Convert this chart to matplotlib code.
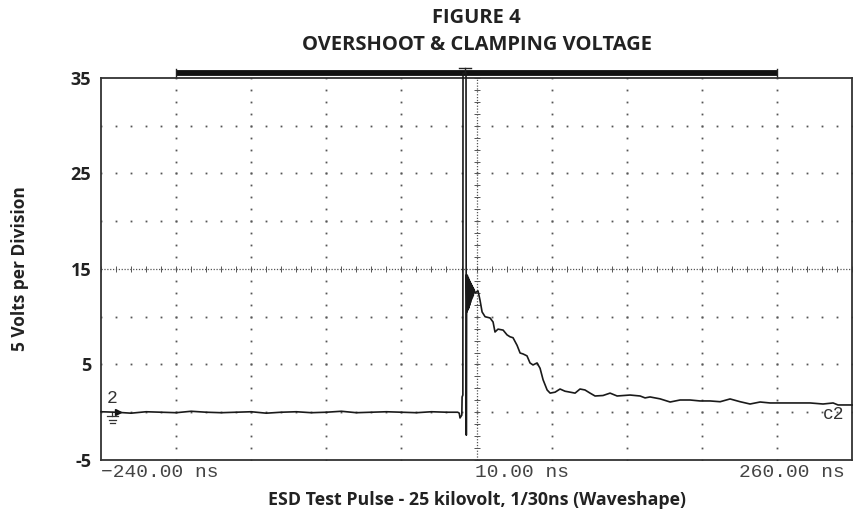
import matplotlib.pyplot as plt

# datos (tiempo en ns, tension en V)
tiempo_base = [-240, -230, -220, -210, -200, -190, -180, -170, -160, -150, -140, -130,
               -120, -110, -100, -90, -80, -70, -60, -50, -40, -30, -20, -10, -2.5]
volt_base = [0.05, 0.0, -0.1, 0.05, 0.0, -0.05, 0.1, 0.0, -0.05, 0.0, 0.05, -0.1,
             0.0, 0.05, -0.05, 0.0, 0.1, -0.05, 0.0, 0.05, 0.0, -0.05, 0.05, 0.0, 0.0]

tiempo_pulso = [-1.5, -1.0, 0.2, 0.4, 0.9, 1.0, 3.0, 3.2, 3.4, 3.6, 3.9, 4.2, 4.5,
                4.8, 5.1, 5.4, 5.7, 6.0, 6.3, 6.6, 6.9, 7.2, 7.5, 7.8, 8.2, 9.0, 10.0]
volt_pulso = [-0.1, -0.6, -0.3, 1.6, 1.8, 35.5, 35.5, -2.4, 14.4, 10.5, 14.3, 10.7, 14.1,
              10.9, 13.9, 11.2, 13.7, 11.5, 13.5, 11.8, 13.3, 12.0, 13.1, 12.2, 12.9, 12.5, 12.6]

tiempo_caida = [11.0, 12.3, 13.7, 15.7, 19.0, 21.0, 22.3, 24.3, 27.7, 30.3, 32.3, 34.3,
                37.0, 39.0, 41.0, 43.6, 45.6, 47.6, 50.3, 52.3, 54.3, 57.0, 59.0, 62.3,
                65.6, 68.9, 72.3, 75.6, 78.9, 82.2, 85.6, 88.9, 94.2, 98.9, 103.6, 112.2,
                118.9, 122.2, 125.5, 132.2, 138.9, 145.5, 152.2, 158.8, 165.5, 172.2,
                178.8, 185.5, 192.1, 198.8, 205.4, 212.1, 218.7, 225.4, 232.1, 240.7,
                247.4, 250.7, 258.7, 260.0]
volt_caida = [12.7, 11.75, 10.5, 10.0, 9.87, 9.45, 8.4, 8.7, 8.6, 8.1, 7.9, 7.8,
              7.0, 6.2, 6.1, 5.9, 5.16, 4.95, 5.16, 4.6, 3.4, 2.33, 2.0, 2.1,
              2.43, 2.2, 2.1, 2.0, 2.43, 2.33, 2.0, 1.7, 1.75, 2.0, 1.7, 1.8,
              1.7, 1.5, 1.6, 1.4, 1.07, 1.28, 1.28, 1.18, 1.18, 1.1,
              1.39, 1.1, 0.86, 1.07, 0.97, 0.97, 0.97, 0.97, 0.97, 0.86,
              0.97, 0.76, 0.76, 0.76]

etiquetas_y = [-5, 5, 15, 25, 35]
rejilla_x = [-190, -140, -90, -40, 60, 110, 160, 210]
rejilla_y = [0, 5, 10, 20, 25, 30]
centro_x = 10
centro_y = 15
barra_memoria = [-190, 210]
gatillo = 2.3

tiempo = tiempo_base + tiempo_pulso + tiempo_caida
volt = volt_base + volt_pulso + volt_caida

fuente = "Open Sans"
mono = "Liberation Mono"
gris = "#555555"

fig = plt.figure(figsize=(8.54, 5.17), dpi=100)
ax = fig.add_axes([0.1183, 0.1103, 0.8794, 0.7389])
ax.set_xlim(-240, 260)
ax.set_ylim(-5, 35)

# rejilla de puntos tipo osciloscopio
puntos_x = []
puntos_y = []
for gx in rejilla_x:
    for k in range(33):
        puntos_x.append(gx)
        puntos_y.append(-5 + k * 1.25)
for gy in rejilla_y:
    for k in range(51):
        puntos_x.append(-240 + k * 10)
        puntos_y.append(gy)
ax.plot(puntos_x, puntos_y, linestyle="none", marker="s", markersize=1.3,
        markeredgewidth=0, color=gris)

# lineas centrales mas densas
ax.axvline(centro_x, color=gris, lw=0.9, linestyle=(0, (1, 1.3)))
ax.axhline(centro_y, color=gris, lw=0.9, linestyle=(0, (1, 1.3)))
ax.plot([centro_x] * 33, [-5 + k * 1.25 for k in range(33)], linestyle="none",
        marker="_", markersize=4, markeredgewidth=0.7, color=gris)
ax.plot([-240 + k * 10 for k in range(51)], [centro_y] * 51, linestyle="none",
        marker="|", markersize=4, markeredgewidth=0.7, color=gris)

# traza
ax.plot(tiempo, volt, color="#1a1a1a", lw=1.2, clip_on=False, zorder=5)

# barra superior y marca de disparo
ax.plot(barra_memoria, [35.52, 35.52], color="#111111", lw=4.2, clip_on=False,
        solid_capstyle="butt")
for bx in barra_memoria:
    ax.plot([bx, bx], [35.05, 35.95], color="#222222", lw=1.0, clip_on=False)
ax.plot([gatillo - 4, gatillo + 4], [36.05, 36.05], color="#222222", lw=1.0, clip_on=False)
ax.plot([gatillo, gatillo], [36.05, 35.6], color="#222222", lw=1.0, clip_on=False)

# indicador de canal 2 y tierra
ax.text(-232.5, 1.4, "2", fontsize=13, family=mono, color="#333333",
        ha="center", va="center")
ax.plot([-229], [0], marker=">", markersize=5, color="#111111", linestyle="none")
ax.plot([-232.5, -232.5], [0, -0.4], color="#333333", lw=0.9)
ax.plot([-236, -229], [-0.4, -0.4], color="#333333", lw=0.9)
ax.plot([-235, -230], [-0.8, -0.8], color="#333333", lw=0.9)
ax.plot([-234, -231], [-1.15, -1.15], color="#333333", lw=0.9)
ax.text(255, -0.2, "c2", fontsize=13, family=mono, color="#333333",
        ha="right", va="center")

# ejes
for lado in ax.spines.values():
    lado.set_color("#333333")
    lado.set_linewidth(1.3)
ax.set_xticks([])
ax.set_yticks(etiquetas_y)
ax.set_yticklabels([str(v) for v in etiquetas_y], fontsize=13, fontweight="bold",
                   family=fuente, color="#222222")
ax.tick_params(axis="y", length=0, pad=7)

tr = ax.get_xaxis_transform()
ax.text(-240, -0.032, "\u2212240.00 ns", transform=tr, fontsize=14,
        family=mono, color="#444444", ha="left", va="center")
ax.text(9, -0.032, "10.00 ns", transform=tr, fontsize=14,
        family=mono, color="#444444", ha="left", va="center")
ax.text(255, -0.032, "260.00 ns", transform=tr, fontsize=14,
        family=mono, color="#444444", ha="right", va="center")

fig.text(0.558, 0.033, "ESD Test Pulse - 25 kilovolt, 1/30ns (Waveshape)",
         fontsize=12.8, fontweight="bold", family=fuente, ha="center", va="center",
         color="#222222")
fig.text(0.0234, 0.48, "5 Volts per Division", fontsize=12.5, fontweight="bold",
         family=fuente, rotation=90, ha="center", va="center", color="#222222")
fig.text(0.558, 0.965, "FIGURE 4", fontsize=14.5, fontweight="bold", family=fuente,
         ha="center", va="center", color="#222222")
fig.text(0.558, 0.913, "OVERSHOOT & CLAMPING VOLTAGE", fontsize=14.5, fontweight="bold",
         family=fuente, ha="center", va="center", color="#222222")

fig.savefig("out.png", dpi=100)
